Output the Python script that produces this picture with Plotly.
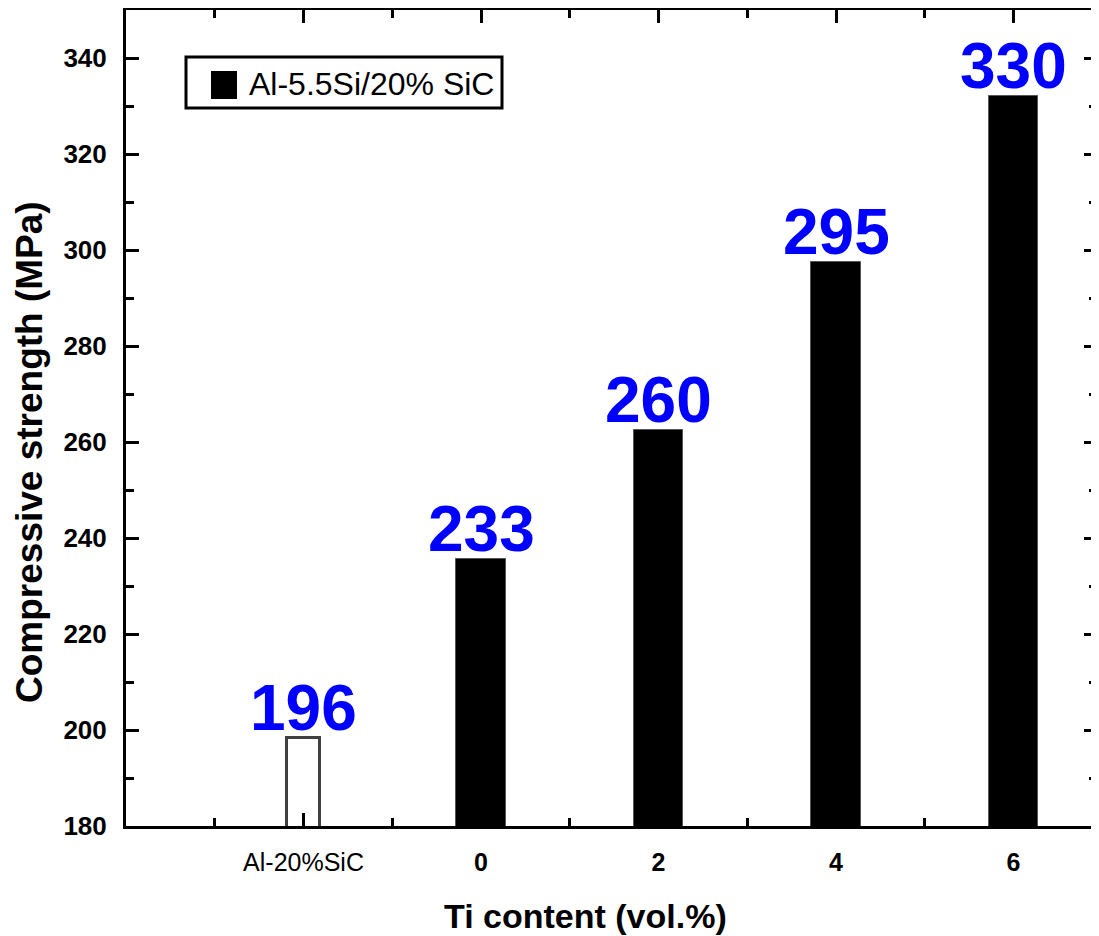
import plotly.graph_objects as go

# ---- data ----
categories = ["Al-20%SiC", "0", "2", "4", "6"]
ref_value = [198.3]            # Al-20%SiC (hollow bar)
ti_values = [235.6, 262.5, 297.6, 332.0]   # Al-5.5Si/20% SiC, Ti = 0,2,4,6
value_labels = ["196", "233", "260", "295", "330"]
series_name = "Al-5.5Si/20% SiC"
y_ticks = [180, 200, 220, 240, 260, 280, 300, 320, 340]

FONT = "Arial, Liberation Sans, sans-serif"
xpos = list(range(len(categories)))

# page has an 8px body margin: figure is shifted by (8, 8)
OFF = 8
PL, PR, PT, PB = 126, 1097, 10, 826   # plot area in page pixels
def px(x):
    return (x - PL) / (PR - PL)
def py(y):
    return (PB - y) / (PB - PT)

fig = go.Figure()
fig.add_trace(go.Bar(
    x=[xpos[0]], y=ref_value, width=0.19,
    marker=dict(color="rgba(255,255,255,0)", line=dict(color="#404040", width=3)),
    showlegend=False, hoverinfo="y",
))
fig.add_trace(go.Bar(
    x=xpos[1:], y=ti_values, width=0.28, name=series_name,
    marker=dict(color="black", line=dict(color="#555555", width=1)),
    showlegend=False,
))

all_vals = ref_value + ti_values
for xi, v, t in zip(xpos, all_vals, value_labels):
    fig.add_annotation(x=xi, y=v, text=t, showarrow=False, yanchor="bottom",
                       xanchor="center", yshift=-8,
                       font=dict(family=FONT, size=64, color="#0000FF", weight="bold"))

# legend (drawn manually so the square matches the reference size)
fig.add_shape(type="rect", xref="paper", yref="paper",
              x0=px(186), x1=px(502), y0=py(108), y1=py(57),
              line=dict(color="black", width=3), fillcolor="white")
fig.add_shape(type="rect", xref="paper", yref="paper",
              x0=px(211), x1=px(237), y0=py(99), y1=py(71),
              line=dict(width=0), fillcolor="black")
fig.add_annotation(xref="paper", yref="paper", x=px(247), y=py(84),
                   text=series_name, showarrow=False, xanchor="left", yanchor="middle",
                   font=dict(family=FONT, size=32, color="black"))

# axis titles
fig.add_annotation(xref="paper", yref="paper", x=px(585), y=py(916),
                   text="Ti content (vol.%)", showarrow=False, xanchor="center", yanchor="middle",
                   font=dict(family=FONT, size=34, color="black", weight="bold"))
fig.add_annotation(xref="paper", yref="paper", x=px(29), y=py(452),
                   text="Compressive strength (MPa)", showarrow=False, textangle=-90,
                   xanchor="center", yanchor="middle",
                   font=dict(family=FONT, size=37, color="black", weight="bold"))

tick_text = ["<span style='font-weight:normal'>Al-20%SiC</span>"] + categories[1:]

W, H = 1099 - OFF, 936 - OFF
fig.update_layout(
    width=W, height=H,
    margin=dict(l=PL - OFF, r=W - (PR - OFF), t=PT - OFF, b=H - (PB - OFF)),
    plot_bgcolor="white", paper_bgcolor="white",
    font=dict(family=FONT, color="black"),
    bargap=0,
    xaxis=dict(
        range=[-1.0, 4.47], tickmode="array", tickvals=xpos, ticktext=tick_text,
        showline=True, linecolor="black", linewidth=3, mirror="ticks",
        ticks="inside", ticklen=13, tickwidth=3, tickcolor="black",
        minor=dict(dtick=0.5, tick0=0, ticks="inside", ticklen=8, tickwidth=3, tickcolor="black"),
        showgrid=False, zeroline=False, automargin=False,
        tickfont=dict(family=FONT, size=25, weight="bold"),
        ticklabelstandoff=12,
    ),
    yaxis=dict(
        range=[180, 350], tickmode="array", tickvals=y_ticks,
        showline=True, linecolor="black", linewidth=3, mirror="ticks",
        ticks="inside", ticklen=13, tickwidth=3, tickcolor="black",
        minor=dict(dtick=10, tick0=180, ticks="inside", ticklen=8, tickwidth=3, tickcolor="black"),
        showgrid=False, zeroline=False, automargin=False,
        tickfont=dict(family=FONT, size=26, weight="bold"),
        ticklabelstandoff=11,
    ),
)

fig.write_html("out.html")
